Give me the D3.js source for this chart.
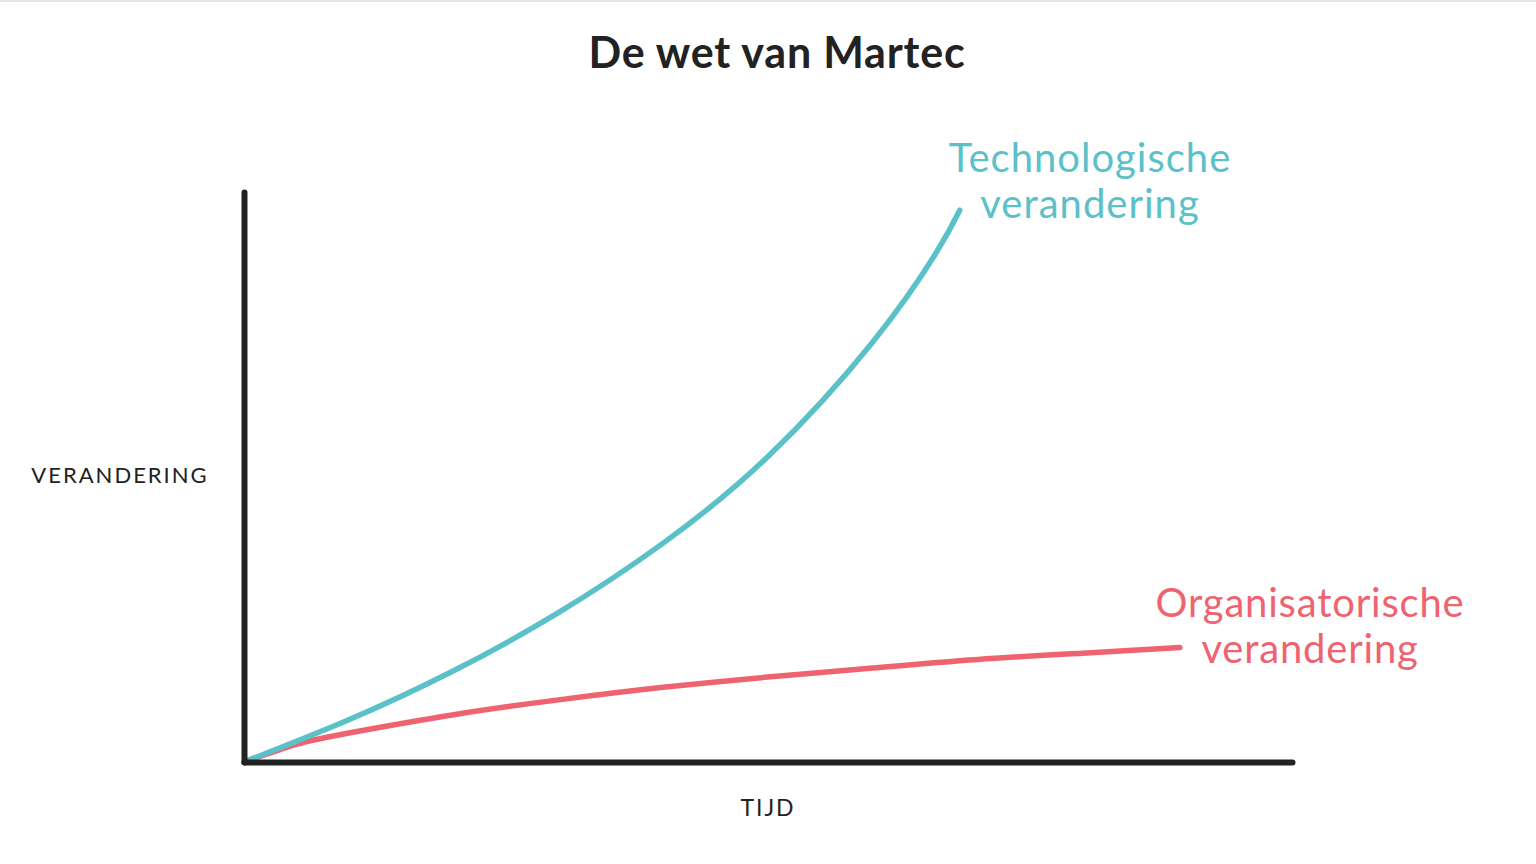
<!DOCTYPE html>
<html>
<head>
<meta charset="utf-8">
<script src="https://cdn.jsdelivr.net/npm/d3@7"></script>
<style>
  html, body { margin: 0; padding: 0; background: #fff; }
  svg { display: block; font-family: Lato, "Open Sans", sans-serif; }
</style>
</head>
<body>
<svg id="chart" width="1536" height="864"></svg>
<script>
// ---- data (arbitrary units 0..100) ----
const title = "De wet van Martec";
const xLabel = "TIJD";
const yLabel = "VERANDERING";

const techTime   = [0, 10, 20, 30, 40, 50, 60, 66, 68.3];
const techValues = [0, 7.4, 16.0, 26.2, 38.4, 53.6, 73.7, 89.2, 96.8];
const techLabel  = ["Technologische", "verandering"];

const orgTime   = [0, 5, 10, 20, 30, 40, 50, 60, 70, 80, 89.3];
const orgValues = [0, 3.1, 5.1, 8.3, 10.9, 13.1, 14.9, 16.5, 18.0, 19.1, 20.1];
const orgLabel  = ["Organisatorische", "verandering"];

// ---- layout ----
const svg = d3.select("#chart");
const x0 = 244, x1 = 1292, y0 = 762, y1 = 192;
const x = d3.scaleLinear().domain([0, 100]).range([x0, x1]);
const y = d3.scaleLinear().domain([0, 100]).range([y0, y1]);

const teal = "#5bc1c9";
const red  = "#ef6370";
const ink  = "#222222";

// thin top border
svg.append("rect").attr("x", 0).attr("y", 0).attr("width", 1536).attr("height", 2).attr("fill", "#e6e6e6");

// title
svg.append("text")
  .attr("x", 777).attr("y", 68)
  .attr("text-anchor", "middle")
  .attr("font-size", 43).attr("font-weight", 700)
  .attr("letter-spacing", 0.8)
  .attr("fill", ink)
  .text(title);

// lines
const line = d3.line().curve(d3.curveNatural);
function drawSeries(times, vals, color) {
  const pts = times.map((t, i) => [x(t), y(vals[i])]);
  svg.append("path")
    .attr("d", line(pts))
    .attr("fill", "none")
    .attr("stroke", color)
    .attr("stroke-width", 5.5)
    .attr("stroke-linecap", "round");
}
drawSeries(orgTime, orgValues, red);
drawSeries(techTime, techValues, teal);

// axes (plain lines, no ticks)
const gx = svg.append("g").attr("transform", `translate(0,${y0})`)
  .call(d3.axisBottom(x).ticks(0).tickSizeOuter(0));
const gy = svg.append("g").attr("transform", `translate(${x0},0)`)
  .call(d3.axisLeft(y).ticks(0).tickSizeOuter(0));
[gx, gy].forEach(g => {
  g.select(".domain").attr("stroke", ink).attr("stroke-width", 6).attr("stroke-linecap", "round");
  g.selectAll(".tick").remove();
});

// axis labels
svg.append("text")
  .attr("x", 768).attr("y", 816)
  .attr("text-anchor", "middle")
  .attr("font-size", 23).attr("letter-spacing", 2)
  .attr("fill", ink)
  .text(xLabel);
svg.append("text")
  .attr("x", 120).attr("y", 483)
  .attr("text-anchor", "middle")
  .attr("font-size", 22).attr("letter-spacing", 2)
  .attr("fill", ink)
  .text(yLabel);

// series labels
function drawLabel(lines, cx, by, color, ls) {
  lines.forEach((s, i) => {
    svg.append("text")
      .attr("x", cx).attr("y", by + i * 46)
      .attr("text-anchor", "middle")
      .attr("font-size", 40)
      .attr("letter-spacing", ls)
      .attr("fill", color)
      .text(s);
  });
}
drawLabel(techLabel, 1090, 172, teal, 1);
drawLabel(orgLabel, 1310, 617, red, 0.8);
</script>
</body>
</html>
